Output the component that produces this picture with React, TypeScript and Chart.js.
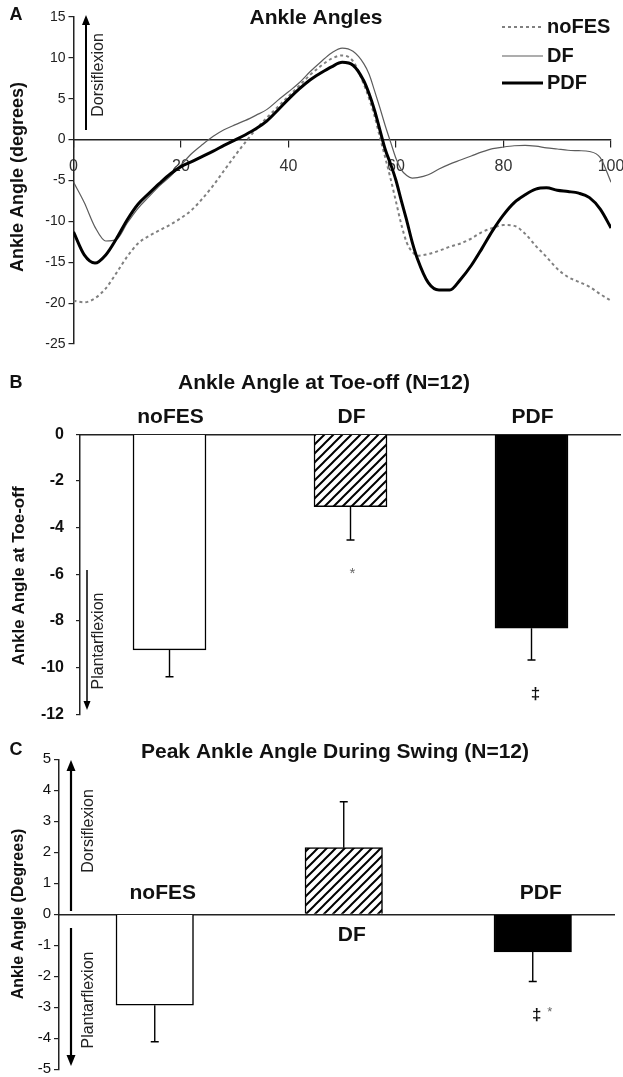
import React, { useEffect, useRef } from 'react';
import { Chart, registerables } from 'chart.js';

Chart.register(...registerables);

const FONT = '"Liberation Sans", Arial, Helvetica, sans-serif';
const CW = 623;

// ---------- Panel A: ankle angle over the gait cycle ----------
const seriesNames = ['noFES', 'DF', 'PDF'];
const cyclePct = [0, 2, 4, 6, 8, 10, 12, 14, 16, 18, 20, 22, 24, 26, 28, 30, 32, 34, 36, 38, 40, 42, 44, 46, 48, 50, 52, 54,
  55, 56, 57, 58, 59, 60, 61, 62, 63, 64,
  66, 68, 70, 72, 74, 76, 78, 80, 82, 84, 86, 88, 90, 92, 94, 96, 98, 100];
const noFESAngle = [-19.7, -19.9, -19.4, -18.2, -16.3, -14.3, -12.7, -11.8, -11.1, -10.4, -9.6, -8.6, -7.2, -5.6, -3.8, -2.0, -0.3, 1.3, 2.7, 4.0, 5.3, 6.6, 7.9, 9.0, 9.9, 10.3, 9.6, 6.8,
  5.0, 2.9, 0.3, -2.2, -4.8, -7.6, -10.4, -12.6, -13.7, -14.2,
  -14.0, -13.6, -13.1, -12.7, -12.1, -11.3, -10.8, -10.45, -10.55, -11.5, -13.0, -14.35, -15.8, -16.8, -17.4, -18.0, -18.9, -19.7];
const dfAngle = [-5.2, -7.7, -10.7, -12.4, -12.2, -10.2, -8.4, -7.0, -5.65, -4.5, -3.1, -1.7, -0.6, 0.4, 1.2, 1.8, 2.35, 3.0, 3.7, 4.8, 5.85, 6.95, 8.3, 9.5, 10.6, 11.2, 10.8, 9.3,
  8.0, 6.0, 3.9, 1.7, -0.3, -2.3, -3.7, -4.4, -4.7, -4.65,
  -4.3, -3.6, -3.0, -2.5, -2.0, -1.5, -1.1, -0.9, -0.75, -0.7, -0.8, -1.0, -1.15, -1.3, -1.35, -1.45, -2.2, -5.2];
const pdfAngle = [-11.3, -14.1, -15.1, -14.1, -12.1, -9.8, -7.9, -6.6, -5.35, -4.2, -3.3, -2.7, -2.05, -1.4, -0.7, -0.05, 0.6, 1.35, 2.3, 3.6, 4.95, 6.2, 7.3, 8.15, 8.9, 9.45, 9.1, 7.2,
  5.6, 3.6, 1.2, -1.2, -3.0, -5.0, -7.5, -9.9, -12.5, -14.6,
  -17.5, -18.4, -18.4, -17.1, -15.4, -13.3, -11.1, -9.2, -7.7, -6.75, -6.05, -5.9, -6.2, -6.35, -6.55, -7.1, -8.5, -10.8];
const angleTicksA = [-25, -20, -15, -10, -5, 0, 5, 10, 15];
const cycleTicksA = [0, 20, 40, 60, 80, 100];

// ---------- Panel B: ankle angle at toe-off ----------
const conditions = ['noFES', 'DF', 'PDF'];
const toeOffMean = [-9.24, -3.1, -8.31];
const toeOffSD = [1.15, 1.43, 1.36];
const toeOffSig = ['', '*', '‡'];
const toeOffTicks = [-12, -10, -8, -6, -4, -2, 0];

// ---------- Panel C: peak ankle angle during swing ----------
const swingPeakMean = [-2.93, 2.15, -1.21];
const swingPeakSD = [1.18, 1.48, 0.96];
const swingPeakSig = ['', '', '‡*'];
const swingTicks = [-5, -4, -3, -2, -1, 0, 1, 2, 3, 4, 5];

// ---------- drawing helpers ----------
function htext(ctx: CanvasRenderingContext2D, s: string, x: number, y: number, font: string, color = '#111', align: CanvasTextAlign = 'center') {
  ctx.save();
  ctx.font = font;
  ctx.fillStyle = color;
  ctx.textAlign = align;
  ctx.textBaseline = 'middle';
  ctx.fillText(s, x, y);
  ctx.restore();
}
function vtext(ctx: CanvasRenderingContext2D, s: string, x: number, y: number, font: string, color = '#111') {
  ctx.save();
  ctx.translate(x, y);
  ctx.rotate(-Math.PI / 2);
  ctx.font = font;
  ctx.fillStyle = color;
  ctx.textAlign = 'center';
  ctx.textBaseline = 'middle';
  ctx.fillText(s, 0, 0);
  ctx.restore();
}
function arrow(ctx: CanvasRenderingContext2D, x: number, y0: number, y1: number, lw: number, head = 10, half = 4) {
  const dir = y1 < y0 ? -1 : 1;
  ctx.save();
  ctx.strokeStyle = '#000';
  ctx.fillStyle = '#000';
  ctx.lineWidth = lw;
  ctx.beginPath();
  ctx.moveTo(x, y0);
  ctx.lineTo(x, y1 - dir * head * 0.8);
  ctx.stroke();
  ctx.beginPath();
  ctx.moveTo(x, y1);
  ctx.lineTo(x - half, y1 - dir * head);
  ctx.lineTo(x + half, y1 - dir * head);
  ctx.closePath();
  ctx.fill();
  ctx.restore();
}
function makeHatch(): CanvasPattern | string {
  const c = document.createElement('canvas');
  c.width = 9;
  c.height = 9;
  const g = c.getContext('2d');
  if (!g) return '#888';
  g.fillStyle = '#fff';
  g.fillRect(0, 0, 9, 9);
  g.strokeStyle = '#000';
  g.lineWidth = 2;
  g.beginPath();
  g.moveTo(-1, 10); g.lineTo(10, -1);
  g.moveTo(-2, 2); g.lineTo(2, -2);
  g.moveTo(7, 11); g.lineTo(11, 7);
  g.stroke();
  return g.createPattern(c, 'repeat') || '#888';
}
const setTicks = (vals: number[]) => (s: any) => { s.ticks = vals.map((v) => ({ value: v })); };

// ---------- Panel A chart ----------
function buildLineChart(canvas: HTMLCanvasElement) {
  const styles = [
    { borderColor: '#808080', borderWidth: 2, borderDash: [3, 3], order: 1 },
    { borderColor: '#5c5c5c', borderWidth: 1.2, borderDash: [] as number[], order: 2 },
    { borderColor: '#000000', borderWidth: 3, borderDash: [] as number[], order: 0 },
  ];
  const values = [noFESAngle, dfAngle, pdfAngle];
  const annot = {
    id: 'annA',
    afterDraw(chart: any) {
      const ctx: CanvasRenderingContext2D = chart.ctx;
      htext(ctx, 'A', 16, 15, `bold 18px ${FONT}`);
      htext(ctx, 'Ankle Angles', 316, 18, `bold 21px ${FONT}`);
      vtext(ctx, 'Ankle Angle (degrees)', 18, 177, `bold 18px ${FONT}`);
      arrow(ctx, 86, 130, 15, 2, 10, 4);
      vtext(ctx, 'Dorsiflexion', 99, 75, `16px ${FONT}`, '#222');
      const rows = [27, 56, 83];
      chart.data.datasets.forEach((ds: any, i: number) => {
        ctx.save();
        ctx.strokeStyle = ds.borderColor;
        ctx.lineWidth = ds.borderWidth;
        ctx.setLineDash(ds.borderDash || []);
        ctx.beginPath();
        ctx.moveTo(502, rows[i]);
        ctx.lineTo(543, rows[i]);
        ctx.stroke();
        ctx.restore();
        htext(ctx, ds.label, 547, rows[i], `bold 20px ${FONT}`, '#111', 'left');
      });
    },
  };
  return new Chart(canvas, {
    type: 'line',
    data: {
      datasets: seriesNames.map((name, si) => ({
        label: name,
        data: cyclePct.map((x, i) => ({ x, y: values[si][i] })),
        ...styles[si],
        pointRadius: 0,
        fill: false,
        cubicInterpolationMode: 'monotone',
      })) as any,
    },
    options: {
      responsive: false,
      animation: false,
      events: [],
      layout: { padding: { left: 0, right: 12, top: 17, bottom: 8 } },
      plugins: { legend: { display: false }, tooltip: { enabled: false }, title: { display: false } },
      scales: {
        x: {
          type: 'linear',
          min: 0,
          max: 100,
          offset: false,
          position: { y: 0 } as any,
          afterBuildTicks: setTicks(cycleTicksA),
          afterFit: (s: any) => { s.paddingLeft = 0; s.paddingRight = 0; },
          grid: { drawOnChartArea: false, tickLength: 7, color: '#222', lineWidth: 1.2 },
          border: { display: true, color: '#222', width: 1.5 },
          ticks: { font: { family: FONT, size: 16 }, color: '#333', padding: 10, maxRotation: 0 },
        },
        y: {
          type: 'linear',
          min: -25,
          max: 15,
          afterBuildTicks: setTicks(angleTicksA),
          afterFit: (s: any) => { s.width = 73.5; s.paddingTop = 0; s.paddingBottom = 0; },
          grid: { drawOnChartArea: false, tickLength: 5, color: '#222', lineWidth: 1.2 },
          border: { display: true, color: '#222', width: 1.5 },
          ticks: { font: { family: FONT, size: 14 }, color: '#222', padding: 3 },
        },
      },
    },
    plugins: [annot],
  });
}

// ---------- Panels B and C bar charts ----------
type BarSpec = {
  letter: string;
  title: string;
  letterY: number;
  titleX: number;
  titleY: number;
  axisTitle: string;
  axisTitleFont: string;
  axisTitleY: number;
  means: number[];
  sds: number[];
  sig: string[];
  ticks: number[];
  yMin: number;
  yMax: number;
  xMin: number;
  xMax: number;
  barWidth: number;
  axisWidth: number;
  padding: { left: number; right: number; top: number; bottom: number };
  tickFont: any;
  tickPad: number;
  tickLen: number;
  labelGap: number;
  labelDx: number;
  arrows: (ctx: CanvasRenderingContext2D) => void;
};

function buildBarChart(canvas: HTMLCanvasElement, spec: BarSpec) {
  const hatch = makeHatch();
  const annot = {
    id: 'annBar',
    afterDraw(chart: any) {
      const ctx: CanvasRenderingContext2D = chart.ctx;
      const xs = chart.scales.x;
      const ys = chart.scales.y;
      htext(ctx, spec.letter, 16, spec.letterY, `bold 18px ${FONT}`);
      htext(ctx, spec.title, spec.titleX, spec.titleY, `bold 21px ${FONT}`);
      vtext(ctx, spec.axisTitle, 19, spec.axisTitleY, spec.axisTitleFont);
      spec.arrows(ctx);
      const zero = ys.getPixelForValue(0);
      spec.means.forEach((m, i) => {
        const cx = xs.getPixelForValue(i + 1);
        const yBar = ys.getPixelForValue(m);
        const yErr = ys.getPixelForValue(m < 0 ? m - spec.sds[i] : m + spec.sds[i]);
        ctx.save();
        ctx.strokeStyle = '#000';
        ctx.lineWidth = 1.4;
        ctx.beginPath();
        ctx.moveTo(cx, yBar);
        ctx.lineTo(cx, yErr);
        ctx.moveTo(cx - 4, yErr);
        ctx.lineTo(cx + 4, yErr);
        ctx.stroke();
        ctx.restore();
        // category label on the side opposite the bar
        const ly = m < 0 ? zero - spec.labelGap : zero + spec.labelGap;
        htext(ctx, conditions[i], cx + spec.labelDx, ly, `bold 21px ${FONT}`);
        // significance marks
        const s = spec.sig[i];
        if (s) {
          const sy = m < 0 ? yErr + 34 : yErr - 34;
          if (s.includes('‡')) {
            htext(ctx, '‡', cx + 4, sy, `bold 17px ${FONT}`, '#111');
            if (s.includes('*')) htext(ctx, '*', cx + 17, sy - 3, `13px ${FONT}`, '#666');
          } else {
            htext(ctx, '*', cx + 2, sy, `15px ${FONT}`, '#666');
          }
        }
      });
    },
  };
  return new Chart(canvas, {
    type: 'bar',
    data: {
      labels: conditions,
      datasets: [
        {
          label: spec.title,
          data: spec.means.map((v, i) => ({ x: i + 1, y: v })),
          backgroundColor: ['#ffffff', hatch as any, '#000000'],
          borderColor: '#000',
          borderWidth: 1.5,
          barThickness: spec.barWidth,
        },
      ] as any,
    },
    options: {
      responsive: false,
      animation: false,
      events: [],
      layout: { padding: spec.padding },
      plugins: { legend: { display: false }, tooltip: { enabled: false }, title: { display: false } },
      scales: {
        x: {
          type: 'linear',
          min: spec.xMin,
          max: spec.xMax,
          offset: false,
          position: { y: 0 } as any,
          afterFit: (s: any) => { s.paddingLeft = 0; s.paddingRight = 0; },
          grid: { display: false, offset: false },
          border: { display: true, color: '#222', width: 1.5 },
          ticks: { display: false },
        },
        y: {
          type: 'linear',
          min: spec.yMin,
          max: spec.yMax,
          afterBuildTicks: setTicks(spec.ticks),
          afterFit: (s: any) => { s.width = spec.axisWidth; s.paddingTop = 0; s.paddingBottom = 0; },
          grid: { drawOnChartArea: false, tickLength: spec.tickLen, color: '#222', lineWidth: 1.2 },
          border: { display: true, color: '#222', width: 1.5 },
          ticks: { font: spec.tickFont, color: '#111', padding: spec.tickPad },
        },
      },
    },
    plugins: [annot],
  });
}

const specB: BarSpec = {
  letter: 'B',
  title: 'Ankle Angle at Toe-off (N=12)',
  letterY: 38,
  titleX: 324,
  titleY: 38,
  axisTitle: 'Ankle Angle at Toe-off',
  axisTitleFont: `bold 17px ${FONT}`,
  axisTitleY: 231,
  means: toeOffMean,
  sds: toeOffSD,
  sig: toeOffSig,
  ticks: toeOffTicks,
  yMin: -12,
  yMax: 0,
  xMin: 0.5055,
  xMax: 3.4889,
  barWidth: 73,
  axisWidth: 80,
  padding: { left: 0, right: 3, top: 89.3, bottom: 10.7 },
  tickFont: { family: FONT, size: 16, weight: 'bold' },
  tickPad: 12,
  tickLen: 4,
  labelGap: 17,
  labelDx: 1,
  arrows: (ctx) => {
    arrow(ctx, 87, 225, 365, 1.5, 9, 3.5);
    vtext(ctx, 'Plantarflexion', 99, 296, `16px ${FONT}`, '#222');
  },
};

const specC: BarSpec = {
  letter: 'C',
  title: 'Peak Ankle Angle During Swing (N=12)',
  letterY: 25,
  titleX: 335,
  titleY: 27,
  axisTitle: 'Ankle Angle (Degrees)',
  axisTitleFont: `bold 16px ${FONT}`,
  axisTitleY: 189,
  means: swingPeakMean,
  sds: swingPeakSD,
  sig: swingPeakSig,
  ticks: swingTicks,
  yMin: -5,
  yMax: 5,
  xMin: 0.4934,
  xMax: 3.4299,
  barWidth: 77.5,
  axisWidth: 59,
  padding: { left: 0, right: 9, top: 34.3, bottom: 7.7 },
  tickFont: { family: FONT, size: 15 },
  tickPad: 3,
  tickLen: 5,
  labelGap: 21,
  labelDx: 8,
  arrows: (ctx) => {
    arrow(ctx, 71, 186, 35, 2.2, 11, 4.5);
    arrow(ctx, 71, 203, 341, 2.2, 11, 4.5);
    vtext(ctx, 'Dorsiflexion', 89, 106, `16px ${FONT}`, '#222');
    vtext(ctx, 'Plantarflexion', 89, 275, `16px ${FONT}`, '#222');
  },
};

export default function App() {
  const refA = useRef<HTMLCanvasElement>(null);
  const refB = useRef<HTMLCanvasElement>(null);
  const refC = useRef<HTMLCanvasElement>(null);

  useEffect(() => {
    const charts: Chart[] = [];
    if (refA.current) charts.push(buildLineChart(refA.current));
    if (refB.current) charts.push(buildBarChart(refB.current, specB));
    if (refC.current) charts.push(buildBarChart(refC.current, specC));
    return () => charts.forEach((c) => c.destroy());
  }, []);

  const cs = (top: number, h: number): React.CSSProperties => ({
    position: 'absolute', left: 0, top, width: CW, height: h, display: 'block',
  });

  return (
    <div style={{ position: 'fixed', left: 0, top: 0, width: CW, height: 1077, background: '#fff', overflow: 'hidden' }}>
      <canvas ref={refA} width={CW} height={352} style={cs(0, 352)} />
      <canvas ref={refB} width={CW} height={380} style={cs(345, 380)} />
      <canvas ref={refC} width={CW} height={352} style={cs(725, 352)} />
    </div>
  );
}
